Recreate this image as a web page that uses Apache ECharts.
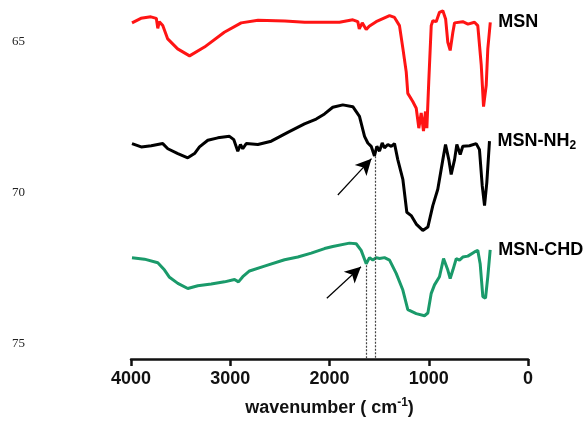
<!DOCTYPE html>
<html>
<head>
<meta charset="utf-8">
<script src="https://cdn.jsdelivr.net/npm/echarts@6/dist/echarts.min.js"></script>
<style>
  * { margin: 0; padding: 0; }
  html, body { background: #fff; overflow: hidden; }
</style>
</head>
<body>
<div id="main" style="width:586px;height:424px;"></div>
<script>
  // [wavenumber, value]
  var msn = [
    [3990, 64.39], [3900, 64.24], [3800, 64.19], [3745, 64.24], [3730, 64.57], [3715, 64.35],
    [3680, 64.48], [3630, 64.92], [3530, 65.25], [3410, 65.48], [3260, 65.19], [3060, 64.70],
    [2890, 64.39], [2720, 64.30], [2450, 64.33], [2250, 64.37], [2050, 64.37], [1900, 64.37],
    [1765, 64.29], [1715, 64.35], [1700, 64.59], [1670, 64.39], [1630, 64.61], [1600, 64.50],
    [1530, 64.35], [1395, 64.15], [1345, 64.21], [1295, 64.48], [1260, 65.25], [1227, 66.01],
    [1211, 66.72], [1161, 66.99], [1126, 67.21], [1100, 67.87], [1076, 67.37], [1053, 67.97],
    [1033, 67.32], [1019, 67.87], [1000, 66.34], [975, 64.48], [959, 64.32], [925, 64.35],
    [892, 64.04], [858, 63.99], [830, 64.26], [808, 65.03], [784, 65.30], [757, 64.70],
    [740, 64.39], [657, 64.35], [605, 64.43], [539, 64.37], [506, 64.48], [471, 65.79],
    [448, 67.16], [421, 66.45], [405, 65.25], [380, 64.37]
  ];
  var msnNH2 = [
    [3990, 68.38], [3897, 68.49], [3796, 68.45], [3680, 68.38], [3629, 68.55], [3528, 68.71],
    [3428, 68.85], [3360, 68.71], [3310, 68.49], [3226, 68.27], [3125, 68.19], [3008, 68.14],
    [2964, 68.25], [2924, 68.63], [2897, 68.41], [2874, 68.55], [2839, 68.38], [2722, 68.41],
    [2587, 68.30], [2420, 68.01], [2252, 67.73], [2134, 67.57], [2050, 67.40], [1967, 67.18],
    [1866, 67.10], [1765, 67.16], [1698, 67.48], [1647, 68.14], [1614, 68.36], [1580, 68.47],
    [1547, 68.79], [1523, 68.47], [1496, 68.63], [1469, 68.36], [1446, 68.52], [1412, 68.41],
    [1378, 68.47], [1345, 68.38], [1312, 68.91], [1261, 69.56], [1221, 70.65], [1177, 70.76],
    [1126, 71.04], [1060, 71.25], [1009, 71.14], [959, 70.43], [909, 69.89], [858, 68.91],
    [831, 68.41], [798, 68.91], [774, 69.40], [740, 68.91], [717, 68.41], [683, 68.74],
    [657, 68.47], [589, 68.45], [522, 68.38], [489, 68.58], [461, 69.78], [438, 70.43],
    [415, 69.67], [388, 68.30]
  ];
  var msnCHD = [
    [3990, 72.15], [3864, 72.20], [3730, 72.32], [3662, 72.56], [3612, 72.80], [3528, 73.00],
    [3428, 73.17], [3327, 73.08], [3192, 73.02], [3058, 72.95], [2957, 72.87], [2917, 72.95],
    [2874, 72.78], [2806, 72.59], [2655, 72.43], [2453, 72.22], [2319, 72.13], [2184, 72.00],
    [2050, 71.85], [1967, 71.78], [1799, 71.67], [1731, 71.69], [1681, 71.91], [1630, 72.35],
    [1597, 72.15], [1564, 72.23], [1529, 72.15], [1496, 72.18], [1446, 72.15], [1395, 72.23],
    [1328, 72.67], [1261, 73.22], [1211, 73.87], [1126, 74.00], [1043, 74.07], [1009, 73.98],
    [975, 73.33], [942, 73.05], [892, 72.78], [851, 72.18], [831, 72.13], [808, 72.56],
    [784, 72.84], [757, 72.56], [723, 72.18], [690, 72.23], [657, 72.13], [606, 72.10],
    [539, 71.96], [506, 71.91], [482, 72.35], [455, 73.44], [428, 73.49], [405, 72.78],
    [381, 71.89]
  ];
  var seriesNames = ['MSN', 'MSN-NH2', 'MSN-CHD'];
  var yLabels = [65, 70, 75];
  // dotted guide lines: [wavenumber, start value]
  var guides = [[1630, 72.40], [1536, 68.80]];
  // arrows: [from, to]
  var arrows = [
    [[1916, 70.08], [1577, 68.88]],
    [[2027, 73.49], [1683, 72.45]]
  ];

  var chart = echarts.init(document.getElementById('main'));

  var markData = [];
  guides.forEach(function (g) {
    markData.push([
      { coord: [g[0], g[1]], symbol: 'none', lineStyle: { type: [2, 1.5], color: '#444', width: 1.2 } },
      { coord: [g[0], 75.5], symbol: 'none' }
    ]);
  });
  arrows.forEach(function (a) {
    markData.push([
      { coord: a[0], symbol: 'none', lineStyle: { type: 'solid', color: '#000', width: 1.2 } },
      { coord: a[1], symbol: 'arrow', symbolSize: [12, 16] }
    ]);
  });

  function endLbl(fmt) {
    return {
      show: true,
      formatter: fmt,
      align: 'left',
      distance: -8,
      fontFamily: 'Liberation Sans',
      fontWeight: 'bold',
      fontSize: 18,
      color: '#000',
      rich: {
        a: { fontFamily: 'Liberation Sans', fontWeight: 'bold', fontSize: 18, lineHeight: 22, color: '#000' },
        sub: { fontFamily: 'Liberation Sans', fontWeight: 'bold', fontSize: 12, lineHeight: 12, verticalAlign: 'bottom', color: '#000' }
      }
    };
  }

  chart.setOption({
    animation: false,
    grid: { left: 131, right: 58, top: 2, bottom: 61 },
    xAxis: {
      type: 'value',
      inverse: true,
      min: 0,
      max: 4000,
      interval: 1000,
      name: 'wavenumber ( cm{sup|-1})',
      nameLocation: 'middle',
      nameGap: 38,
      nameTextStyle: {
        fontFamily: 'Liberation Sans',
        fontWeight: 'bold',
        fontSize: 18,
        lineHeight: 22,
        color: '#111',
        rich: {
          sup: { fontFamily: 'Liberation Sans', fontWeight: 'bold', fontSize: 12, lineHeight: 12, verticalAlign: 'top', color: '#111' }
        }
      },
      axisLine: { onZero: false, lineStyle: { color: '#111', width: 2.5 } },
      axisTick: { length: 7, lineStyle: { color: '#111', width: 2.5 } },
      axisLabel: {
        fontFamily: 'Liberation Sans', fontWeight: 'bold', fontSize: 18, color: '#111', margin: 11,
        formatter: function (v) { return String(v); }
      },
      splitLine: { show: false }
    },
    yAxis: {
      type: 'value',
      inverse: true,
      min: 63.7,
      max: 75.5,
      axisLine: { show: false },
      axisTick: { show: false },
      splitLine: { show: false },
      axisLabel: {
        customValues: yLabels,
        fontFamily: 'Liberation Serif',
        fontSize: 13,
        color: '#222',
        margin: 106
      }
    },
    series: [
      {
        name: seriesNames[0], type: 'line', data: msn, symbol: 'none',
        lineStyle: { color: '#ff1414', width: 3 },
        endLabel: endLbl('{a|MSN}')
      },
      {
        name: seriesNames[1], type: 'line', data: msnNH2, symbol: 'none',
        lineStyle: { color: '#000', width: 3 },
        endLabel: endLbl('{a|MSN-NH}{sub|2}'),
        markLine: { silent: true, animation: false, label: { show: false }, data: markData }
      },
      {
        name: seriesNames[2], type: 'line', data: msnCHD, symbol: 'none',
        lineStyle: { color: '#1a9a6a', width: 3 },
        endLabel: endLbl('{a|MSN-CHD}')
      }
    ]
  });
</script>
</body>
</html>
